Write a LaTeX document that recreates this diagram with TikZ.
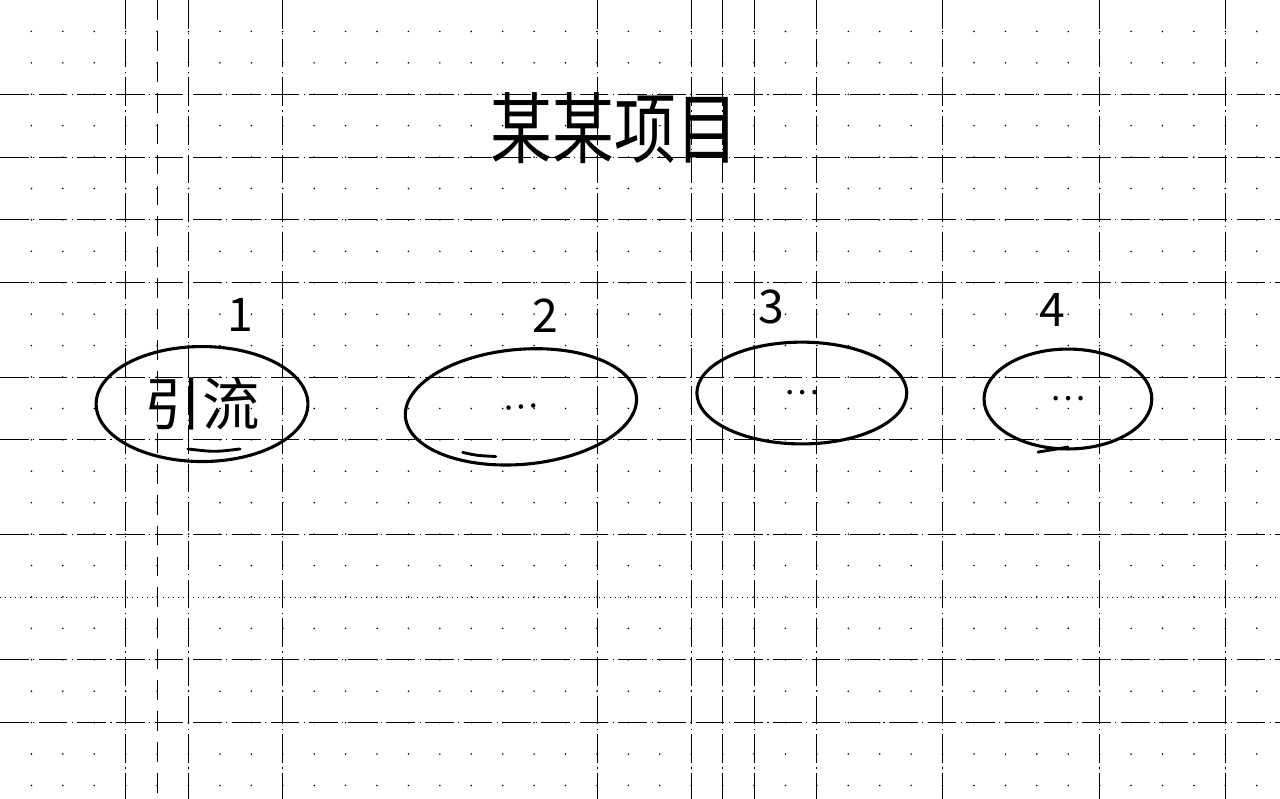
\documentclass[tikz,border=0pt]{standalone}
\usepackage{fontspec}
\setmainfont{Noto Sans CJK SC}
\usepackage{tikz}
\usetikzlibrary{shapes,positioning,calc}
\usepackage{xcolor}
\definecolor{ink}{RGB}{0,0,0}
\definecolor{paper}{RGB}{255,255,255}
\tikzstyle{gridline} = [ink, line width=0.4pt, dash pattern=on 13pt off 2pt on 0.5pt off 2pt]

\begin{document}
\begin{tikzpicture}[
    x=0.5cm, y=-0.5cm,
    bubble/.style={ellipse, draw=ink, line width=1.4pt, inner sep=0pt, font=\fontsize{15}{18}\selectfont},
    num/.style={font=\fontsize{21}{24}\selectfont, text=ink},
    pen/.style={ink, line width=1.3pt, line cap=round}
]
% Paper
\fill[paper] (0,0) rectangle (40.74,25.43);
\useasboundingbox (0,0) rectangle (40.74,25.43);

% Grid dots
\foreach \i in {1,...,40}
  \foreach \j in {1,...,25}
    \fill[ink] (\i,\j) circle (0.4pt);

% Grid lines
\foreach \i in {4,6,9,19,22,23,24,26,30,35,39}
  \draw[gridline] (\i,0) -- (\i,25.43);
\draw[gridline, dash pattern=on 9pt off 5pt] (5,0) -- (5,25.43);
\foreach \j in {3,5,7,9,12,14,17,21,23}
  \draw[gridline] (0,\j) -- (40.74,\j);
\draw[ink, line width=0.3pt, dotted] (0,19) -- (40.74,19);

% Title
\node (title) [font=\fontsize{28}{30}\selectfont, yscale=1.25, transform shape] at (19.55,4.07) {某某项目};

% Steps
\node (b1) [bubble, minimum width=3.37cm, minimum height=1.83cm] at (6.43,12.86) {\fontsize{26}{28}\selectfont 引流};
\node (b2) [bubble, minimum width=3.69cm, minimum height=1.83cm, rotate=5] at (16.58,12.95) {\ldots};
\node (b3) [bubble, minimum width=3.34cm, minimum height=1.62cm] at (25.52,12.51) {\ldots};
\node (b4) [bubble, minimum width=2.67cm, minimum height=1.59cm] at (33.99,12.70) {\ldots};

% Numbers
\node (n1) [num] at (7.64,10.03) {1};
\node (n2) [num] at (17.35,10.06) {2};
\node (n3) [num] at (24.54,9.77) {3};
\node (n4) [num] at (33.48,9.87) {4};

% Pen ends
\draw[pen] ($(b1.south)+(-0.45,-0.45)$) .. controls ($(b1.south)+(0.4,-0.35)$) .. ($(b1.south)+(1.21,-0.45)$);
\draw[pen] ($(b2.center)+(-1.85,1.45)$) .. controls ($(b2.center)+(-1.4,1.55)$) .. ($(b2.center)+(-0.8,1.58)$);
\draw[pen] ($(b4.center)+(-0.95,1.69)$) -- ($(b4.center)+(0,1.53)$);
\end{tikzpicture}
\end{document}
